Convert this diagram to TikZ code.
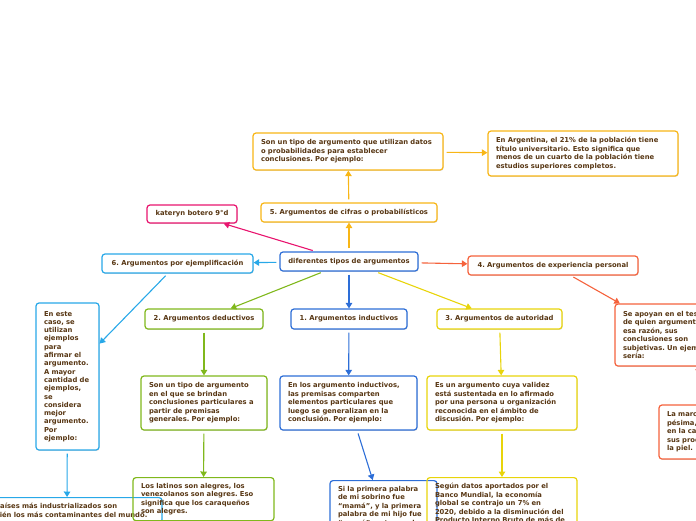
\documentclass[tikz,border=0pt]{standalone}
\usepackage{fontspec}
\setmainfont{DejaVu Sans}
\usetikzlibrary{arrows.meta,shadows}
\definecolor{txt}{RGB}{88,55,20}
\definecolor{cblue}{RGB}{45,110,215}
\definecolor{cgold}{RGB}{248,182,22}
\definecolor{cpink}{RGB}{232,20,110}
\definecolor{clblue}{RGB}{40,168,232}
\definecolor{corange}{RGB}{245,98,60}
\definecolor{cgreen}{RGB}{128,184,28}
\definecolor{cyellow}{RGB}{232,212,10}
\frenchspacing
\begin{document}
\begin{tikzpicture}[x=1pt,y=-1pt,
  every node/.style={font=\fontsize{6.8}{8.5}\selectfont\bfseries\frenchspacing, text=txt},
  box/.style={draw, rounded corners=3pt, line width=1.2pt, fill=white,
    drop shadow={shadow xshift=0.6pt,shadow yshift=-0.9pt,opacity=0.15,fill=black}},
  one/.style={box, inner xsep=2pt, inner ysep=2pt, align=center},
  multi/.style={box, inner xsep=8pt, inner ysep=4pt, align=left},
  open/.style={draw, rounded corners=3pt, line width=1.2pt, inner xsep=8pt, inner ysep=5.5pt, align=left, anchor=north},
  conn/.style={line width=1.1pt, -{Triangle[width=6.5pt,length=5.5pt]}, shorten <=3pt},
]
\useasboundingbox (0,0) rectangle (696,520);
\clip (0,0) rectangle (696,520);

% top level
\node[one, draw=cblue, minimum width=138pt, minimum height=19pt] (root) at (349,261.5) {diferentes tipos de argumentos};
\node[one, draw=cgold, minimum width=176pt, minimum height=19pt] (n5) at (349,212.5) {5. Argumentos de cifras o probabilísticos};
\node[multi, draw=cgold, text width=174pt, minimum height=37pt] (n5a) at (348,151.5)
 {\mbox{Son un tipo de argumento que utilizan datos}\\\mbox{o probabilidades para establecer}\\\mbox{conclusiones. Por ejemplo:}};
\node[multi, draw=cgold, text width=174pt, minimum height=45pt] (n5b) at (583,153.5)
 {\mbox{En Argentina, el 21\% de la población tiene}\\\mbox{título universitario. Esto significa que}\\\mbox{menos de un cuarto de la población tiene}\\\mbox{estudios superiores completos.}};
\node[one, draw=cpink, minimum width=90pt, minimum height=18pt] (kat) at (192,214) {kateryn botero 9°d};
\node[one, draw=clblue, minimum width=151pt, minimum height=19pt] (n6) at (177.5,263.5) {6. Argumentos por ejemplificación};
\node[one, draw=corange, minimum width=170pt, minimum height=19pt] (n4) at (553,265.5) {4. Argumentos de experiencia personal};
\node[one, draw=cgreen, minimum width=118pt, minimum height=20pt] (n2) at (204,319) {2. Argumentos deductivos};
\node[one, draw=cblue, minimum width=116pt, minimum height=20pt] (n1) at (349,319) {1. Argumentos inductivos};
\node[one, draw=cyellow, minimum width=125pt, minimum height=20pt] (n3) at (499.5,319) {3. Argumentos de autoridad};

% second level
\node[multi, draw=clblue, text width=47pt, minimum height=147pt, font=\fontsize{6.8}{8.3}\selectfont\bfseries\frenchspacing] (n6a) at (67.5,376.5)
 {\mbox{En este}\\\mbox{caso, se}\\\mbox{utilizan}\\\mbox{ejemplos}\\\mbox{para}\\\mbox{afirmar el}\\\mbox{argumento.}\\\mbox{A mayor}\\\mbox{cantidad de}\\\mbox{ejemplos,}\\\mbox{se}\\\mbox{considera}\\\mbox{mejor}\\\mbox{argumento.}\\\mbox{Por}\\\mbox{ejemplo:}};
\node[multi, draw=corange, text width=105pt, minimum height=62pt] (n4a) at (675.5,335)
 {\mbox{Se apoyan en el testimonio}\\\mbox{de quien argumenta. Por}\\\mbox{esa razón, sus}\\\mbox{conclusiones son}\\\mbox{subjetivas. Un ejemplo}\\\mbox{sería:}};
\node[multi, draw=cgreen, text width=110pt, minimum height=54pt] (n2a) at (204,403)
 {\mbox{Son un tipo de argumento}\\\mbox{en el que se brindan}\\\mbox{conclusiones particulares a}\\\mbox{partir de premisas}\\\mbox{generales. Por ejemplo:}};
\node[multi, draw=cblue, text width=121pt, minimum height=54pt] (n1a) at (348.5,403)
 {\mbox{En los argumento inductivos,}\\\mbox{las premisas comparten}\\\mbox{elementos particulares que}\\\mbox{luego se generalizan en la}\\\mbox{conclusión. Por ejemplo:}};
\node[multi, draw=cyellow, text width=134pt, minimum height=54pt] (n3a) at (502,403)
 {\mbox{Es un argumento cuya validez}\\\mbox{está sustentada en lo afirmado}\\\mbox{por una persona u organización}\\\mbox{reconocida en el ámbito de}\\\mbox{discusión. Por ejemplo:}};
\node[multi, draw=corange, text width=132pt, minimum height=54pt] (n4b) at (733,432)
 {\mbox{La marca de cremas es}\\\mbox{pésima, porque la usé}\\\mbox{en la cara y todos}\\\mbox{sus productos dañan}\\\mbox{la piel.}};

% third level
\node[open, draw=clblue, text width=174pt] (n6b) at (67,497)
 {\mbox{Los países más industrializados son}\\\mbox{también los más contaminantes del mundo.}};
\node[open, draw=cgreen, text width=125pt] (n2b) at (203.5,477)
 {\mbox{Los latinos son alegres, los}\\\mbox{venezolanos son alegres. Eso}\\\mbox{significa que los caraqueños}\\\mbox{son alegres.}};
\node[open, draw=cblue, text width=91pt] (n1b) at (383.5,480)
 {\mbox{Si la primera palabra}\\\mbox{de mi sobrino fue}\\\mbox{“mamá”, y la primera}\\\mbox{palabra de mi hijo fue}\\\mbox{“mamá”, entonces la}\\\mbox{primera palabra de}\\\mbox{todos los niños es}};
\node[open, draw=cyellow, text width=134pt] (n3b) at (502,477)
 {\mbox{Según datos aportados por el}\\\mbox{Banco Mundial, la economía}\\\mbox{global se contrajo un 7\% en}\\\mbox{2020, debido a la disminución del}\\\mbox{Producto Interno Bruto de más de}};

% connectors
\draw[conn, draw=cgold] (root) -- (n5);
\draw[conn, draw=cgold] (n5) -- (n5a);
\draw[conn, draw=cgold] (n5a) -- (n5b);
\draw[conn, draw=cpink] (root) -- (kat);
\draw[conn, draw=clblue] (root) -- (n6);
\draw[conn, draw=corange] (root) -- (n4);
\draw[conn, draw=cgreen] (root) -- (n2);
\draw[conn, draw=cblue] (root) -- (n1);
\draw[conn, draw=cyellow] (root) -- (n3);
\draw[conn, draw=clblue] (n6) -- (n6a);
\draw[conn, draw=corange] (n4) -- (n4a);
\draw[conn, draw=cgreen] (n2) -- (n2a);
\draw[conn, draw=cblue] (n1) -- (n1a);
\draw[conn, draw=cyellow] (n3) -- (n3a);
\draw[conn, draw=corange] (n4a) -- (n4b);
\draw[conn, draw=clblue] (n6a) -- (n6b);
\draw[conn, draw=cgreen] (n2a) -- (n2b);
\draw[conn, draw=cblue] (n1a) -- (n1b);
\draw[conn, draw=cyellow] (n3a) -- (n3b);
\end{tikzpicture}
\end{document}
